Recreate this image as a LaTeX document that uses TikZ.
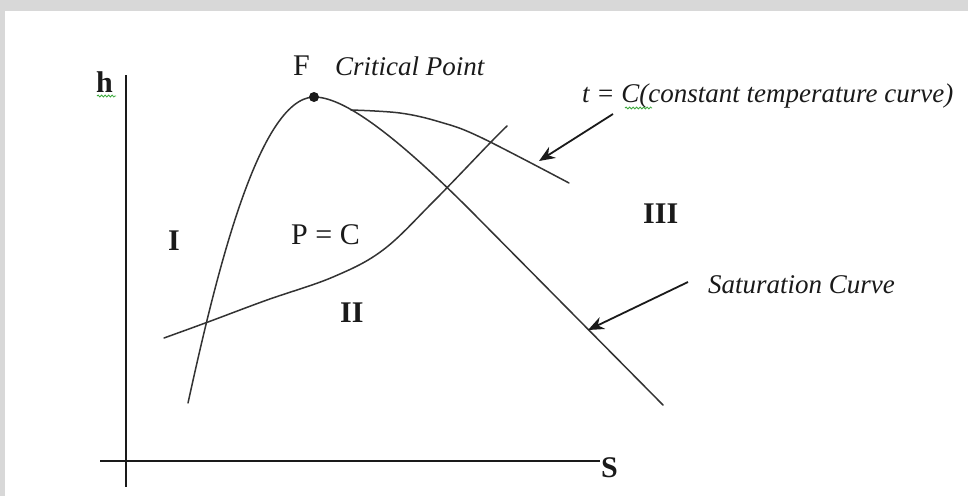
\documentclass[tikz,border=0pt]{standalone}
\usepackage{fontspec}
\setmainfont{Liberation Serif}
\usetikzlibrary{arrows.meta,decorations.pathmorphing,calc}
\definecolor{ink}{HTML}{1A1A1A}
\definecolor{line}{HTML}{333333}
\definecolor{frame}{HTML}{D8D8D8}
\definecolor{squig}{HTML}{3DAA3D}
\tikzset{
  axis/.style={draw=ink, line width=1.8pt},
  curve/.style={draw=line, line width=1.5pt, line cap=round},
  ar/.style={-{Stealth[length=16pt, width=13pt]}, line width=1.8pt, color=ink},
  roman/.style={font=\fontsize{30}{32}\selectfont, text=ink, inner sep=0pt, anchor=base west},
  romanbf/.style={roman, font=\fontsize{30}{32}\selectfont\bfseries},
  ital/.style={font=\fontsize{27}{29}\selectfont\itshape, text=ink, inner sep=0pt, anchor=base west},
  squiggle/.style={draw=squig, line width=0.8pt, decorate,
                   decoration={snake, amplitude=1pt, segment length=3.5pt}},
}
\begin{document}
\begin{tikzpicture}[x=1pt, y=-1pt]
% page and frame
\fill[frame] (0,0) rectangle (968,496);
\fill[white] (5,11) rectangle (968,496);
\useasboundingbox (0,0) rectangle (968,496);

% axes
\coordinate (ytop) at (126,75);
\coordinate (ybot) at (126,487);
\coordinate (xleft) at (100,461);
\coordinate (xright) at (600,461);
\draw[axis] (ytop) -- (ybot);
\draw[axis] (xleft) -- (xright);
\node[romanbf] (hlbl) at (96,92) {h};
\node[romanbf] (slbl) at (601,477) {S};

% saturation curve
\coordinate (crit) at (314,97);
\draw[curve] (188,403) .. controls (215,280) and (258,98) .. (crit)
  .. controls (340,97) and (385,125) .. (470,210) -- (663,405);
% constant pressure curve
\draw[curve] plot[smooth, tension=0.6] coordinates {
  (164,338) (208,322) (267,300) (333,277) (383,250) (433,202) (490,143) (507,126)};
% constant temperature curve
\draw[curve] plot[smooth, tension=0.6] coordinates {
  (351,110) (400,113) (440,122) (480,137) (569,183)};

% critical point
\fill[ink] (crit) circle (5pt);
\node[roman] (flbl) at (293,75) {F};
\node[ital] (critlbl) at (335,75) {Critical Point};

% labels with pointers
\node[ital] (templbl) at (582,102) {t = C(constant temperature curve)};
\coordinate (tempfrom) at (613,114);
\coordinate (tempto) at (539,161);
\draw[ar] (tempfrom) -- (tempto);

\node[ital] (satlbl) at (708,293) {Saturation Curve};
\coordinate (satfrom) at (688,282);
\coordinate (satto) at (588,330);
\draw[ar] (satfrom) -- (satto);

% regions
\node[romanbf] (reg1) at (168,250) {I};
\node[romanbf] (reg2) at (340,322) {II};
\node[romanbf] (reg3) at (643,223) {III};
\node[roman] (pclbl) at (291,244) {P = C};

% spell-check marks
\draw[squiggle] (97,96) -- (116,96);
\draw[squiggle] (625,108) -- (652,108);
\end{tikzpicture}
\end{document}
